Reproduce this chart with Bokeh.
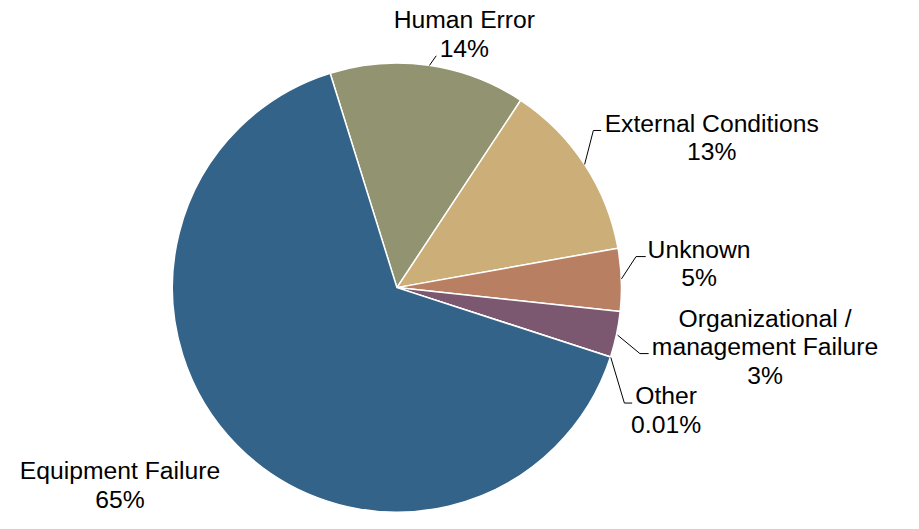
from bokeh.plotting import figure
from bokeh.models import Range1d, ColumnDataSource
from bokeh.embed import file_html
from bokeh.resources import INLINE
from bokeh.core.properties import value
import numpy as np

# ---- data ----
categories = ["Human Error", "External Conditions", "Unknown",
              "Organizational /\nmanagement Failure", "Other", "Equipment Failure"]
shares = [14.1, 12.9, 4.5, 3.3, 0.01, 65.2]
pct_labels = ["14%", "13%", "5%", "3%", "0.01%", "65%"]
colors = ["#929370", "#CBAE78", "#B97F63", "#7B5770", "#4A5A7A", "#346389"]

# ---- layout ----
W, H = 903, 513
S, DX, DY = 0.97, 6.0, 0.0   # fit the design (laid out on a 919x529 grid) into the figure

def X(px):
    return px * S + DX

def Y(py):
    return H - (py * S + DY)

cx, cy, R = X(402.5), Y(296), 231.5 * S
start_deg = 107.3  # Human Error starts here (counterclockwise from +x)

p = figure(width=W, height=H, output_backend="svg", toolbar_location=None,
           x_range=Range1d(0, W), y_range=Range1d(0, H), min_border=0)
p.axis.visible = False
p.grid.visible = False
p.outline_line_color = None

vals = np.array(shares)
frac = vals / vals.sum()
cum = np.concatenate([[0], np.cumsum(frac)])
ends = np.radians(start_deg - 360 * cum[:-1])
starts = np.radians(start_deg - 360 * cum[1:])
src = ColumnDataSource(dict(x=[cx] * len(vals), y=[cy] * len(vals),
                            s=starts, e=ends, c=colors))
p.wedge(x="x", y="y", radius=R, start_angle="s", end_angle="e",
        fill_color="c", line_color="white", line_width=1.5, source=src)

# leader lines (design coords)
leaders = [
    [(436, 67), (443, 57)],
    [(596, 169), (605, 134), (613, 134)],
    [(634, 287), (649, 264), (659, 264)],
    [(630, 345), (653, 364), (662, 364)],
    [(623, 368), (637, 415), (645, 415)],
]
p.multi_line(xs=[[X(pt[0]) for pt in l] for l in leaders],
             ys=[[Y(pt[1]) for pt in l] for l in leaders],
             line_color="black", line_width=1)

# label lines: center x, baseline y of first line (design coords)
label_pos = [(472, 27), (727, 134), (714, 264), (782, 335), (680, 415), (117, 492)]
line_h = 29.5
base_fix = 7.5  # compensate svg baseline placement
tx, ty, tt = [], [], []
for i, (x0, y0) in enumerate(label_pos):
    lines = categories[i].split("\n") + [pct_labels[i]]
    for k, t in enumerate(lines):
        tx.append(X(x0))
        ty.append(Y(y0 + k * line_h - base_fix))
        tt.append(t)
p.text(x=tx, y=ty, text=tt, text_align="center", text_baseline="alphabetic",
       text_font=value("Liberation Sans"), text_font_size="%.1fpx" % (25.5 * S),
       text_color="black")

open("out.html", "w").write(file_html(p, INLINE))
